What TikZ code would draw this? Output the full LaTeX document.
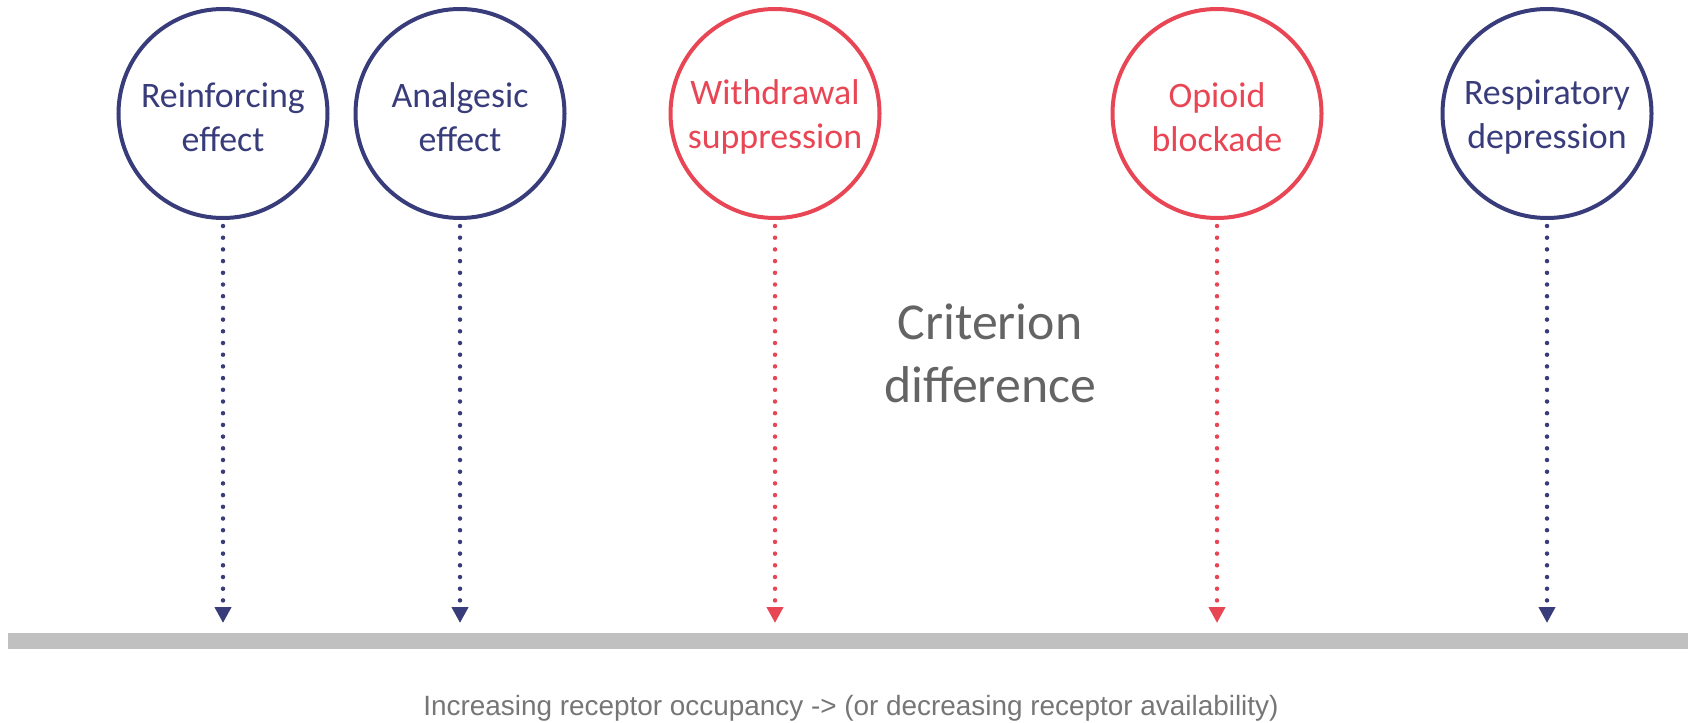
\documentclass[tikz,border=0pt]{standalone}
\usepackage{fontspec}
\setmainfont{Carlito}
\newfontfamily\arialfont{Liberation Sans}
\usetikzlibrary{arrows.meta}
\definecolor{navy}{RGB}{56,60,122}
\definecolor{redc}{RGB}{232,70,84}
\definecolor{bargray}{RGB}{192,192,192}
\definecolor{crit}{RGB}{100,100,100}
\definecolor{foot}{RGB}{118,118,118}
\tikzset{
  effect/.style={circle, draw, line width=4bp, minimum size=209bp, inner sep=0pt},
  efftext/.style={align=center, font=\fontsize{36}{44}\selectfont, inner sep=0pt},
  navyeff/.style={effect, draw=navy, label={[efftext, text=navy, yshift=-3.5bp]center:#1}},
  redeff/.style={effect, draw=redc, label={[efftext, text=redc, yshift=-3.5bp]center:#1}},
  dotarrow/.style={line width=4.5bp, line cap=round, dash pattern=on 0bp off 11.7bp,
    -{Triangle[width=16bp,length=16bp]}, shorten <=6bp}
}
\begin{document}
\begin{tikzpicture}[x=1bp,y=-1bp]
\useasboundingbox (0,0) rectangle (1690,723);
\node[navyeff={Reinforcing\\effect}] (re) at (223,113.5) {};
\node[navyeff={Analgesic\\effect}] (an) at (460,113.5) {};
\node[redeff={Withdrawal\\suppression}] (wd) at (775,113.5) {};
\node[redeff={Opioid\\blockade}] (ob) at (1217,113.5) {};
\node[navyeff={Respiratory\\depression}] (rd) at (1547,113.5) {};
\coordinate (tre) at (223,623);
\coordinate (tan) at (460,623);
\coordinate (twd) at (775,623);
\coordinate (tob) at (1217,623);
\coordinate (trd) at (1547,623);
\draw[dotarrow, navy] (re.south) -- (tre);
\draw[dotarrow, navy] (an.south) -- (tan);
\draw[dotarrow, redc] (wd.south) -- (twd);
\draw[dotarrow, redc] (ob.south) -- (tob);
\draw[dotarrow, navy] (rd.south) -- (trd);
\fill[bargray] (7.5,633) rectangle (1688,649);
\node[text=crit, align=center, font=\fontsize{52}{63}\selectfont] (cd) at (990,353) {Criterion\\difference};
\node[text=foot, anchor=base, font=\arialfont\fontsize{28}{32}\selectfont] (ft) at (851,715) {Increasing receptor occupancy -> (or decreasing receptor availability)};
\end{tikzpicture}
\end{document}
